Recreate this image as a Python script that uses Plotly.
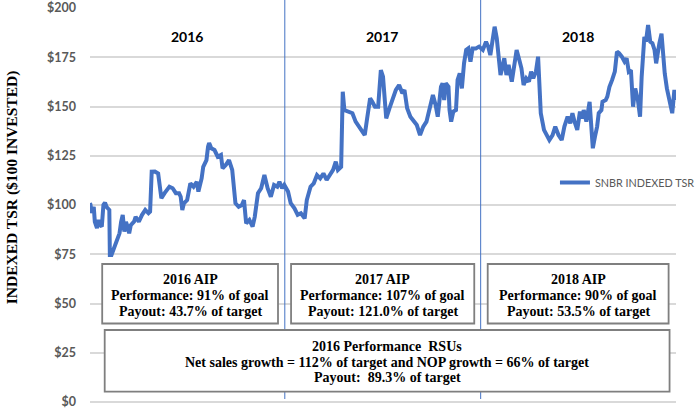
import plotly.graph_objects as go

# ---------------- data ----------------
dates_2016 = ["01-04","01-05","01-07","01-11","01-13","01-17","01-20","01-23","01-26","01-29","02-01",
              "02-04","02-09","02-10","02-13","02-16","02-22","02-28","03-02","03-05","03-08","03-11",
              "03-14","03-17","03-20","03-26","03-29","04-04","04-10","04-16","04-22","04-25","04-28",
              "05-04","05-10","05-13","05-16","05-22","05-28","05-31","06-06","06-12","06-18","06-21",
              "06-24","06-27","07-03","07-09","07-15","07-21","07-24","07-30","08-02","08-08","08-11",
              "08-13","08-17","08-23","08-29","09-04","09-07","09-13","09-19","09-25","10-01","10-07",
              "10-13","10-17","10-21","10-27","11-02","11-06","11-12","11-18","11-24","11-30","12-06",
              "12-12","12-18","12-22","12-27","12-31"]
tsr_2016 = [101,100,96,99,91.5,88.3,92.4,89.8,89,100,101.2,99,97.5,74.6,74.6,77,81.4,85.6,91.5,95,86.5,
            91.5,89,85.6,89.8,91.5,94,91.5,95,97.5,95.8,96.6,116.9,117,116,109.3,103.4,106,108.5,109.3,
            108.5,106,106,104.2,97.5,100.9,102.5,111,109.3,111.8,106.8,113.5,119.4,122.8,129.6,131.5,
            128.8,127.9,124.5,125.4,118.6,120.3,122.8,117.8,100.9,99.1,100,102.5,90.7,92.4,89,94,106,
            108.5,115.2,108.5,104.2,110.2,109.3,111.8,108.5,110.2]

dates_2017 = ["01-07","01-12","01-19","01-25","01-31","02-07","02-11","02-18","02-24","03-02","03-08",
              "03-14","03-20","03-26","04-01","04-06","04-10","04-16","04-19","04-22","04-28","05-07",
              "05-13","05-19","05-25","05-30","06-03","06-09","06-13","06-18","06-24","06-29","07-03",
              "07-06","07-09","07-15","07-21","07-27","08-02","08-08","08-12","08-17","08-23","08-29",
              "09-04","09-10","09-16","09-22","09-28","10-04","10-09","10-13","10-19","10-22","10-25",
              "10-28","11-02","11-04","11-07","11-11","11-16","11-19","11-23","11-27","12-01","12-05",
              "12-09","12-13","12-17","12-23","12-29"]
tsr_2017 = [106.8,100.9,98.3,95,95.8,93.2,102.5,109.3,111,115.2,113.5,116,112.7,115.2,117.8,122,117.8,
            119.4,157.5,148.2,147.4,146.6,142.3,139.8,138.1,135.5,143.1,154.2,152.4,149.9,149.9,168.5,
            165.1,155,144,149.1,153.3,158.4,160.9,156.7,158.4,149.1,144.8,142.3,140.6,135.5,139.8,142.3,
            148.2,155.8,150.8,144.8,160,161.8,153.3,161.8,160,148.2,142.3,147.4,148.2,163.5,166.8,159.2,
            171.9,178.7,179.5,172.8,179.5,179.5,180.4]

dates_2018 = ["01-05","01-11","01-15","01-19","01-23","01-27","01-31","02-04","02-07","02-10","02-14",
              "02-18","02-22","02-28","03-04","03-09","03-14","03-18","03-22","03-27","04-01","04-05",
              "04-09","04-14","04-18","04-21","04-23","04-29","05-05","05-09","05-15","05-20","05-26",
              "06-01","06-06","06-12","06-17","06-21","06-25","06-30","07-05","07-09","07-12","07-17",
              "07-23","07-25","07-29","08-02","08-06","08-09","08-14","08-16","08-22","08-25","08-29",
              "09-03","09-08","09-12","09-16","09-21","09-26","09-30","10-04","10-08","10-12","10-16",
              "10-21","10-25","10-28","11-02","11-05","11-09","11-13","11-17","11-21","11-24","11-27",
              "11-30","12-04","12-07","12-10","12-14","12-20","12-24","12-28","12-31"]
tsr_2018 = [178.7,182.9,180.4,176.1,185.4,190.5,184.6,175.3,166,169.4,174.5,166,171.1,162.6,170.2,178.7,
            173.6,169.4,160.9,164.3,162.6,167.7,164.3,167.7,175.3,156.7,146.6,138.1,135.5,133,135.5,
            139.8,135.5,133,139.8,144.8,141.5,146.6,142.3,138.1,147.4,144,148.2,142.3,152.4,145.7,128.8,
            134.7,139.8,146.6,148.2,152.4,153.3,155,160,163.5,167.7,177.8,177,175.3,172.8,174.5,167.7,
            168.5,149.9,159.2,153.3,144.8,165.1,185.4,182.9,191.4,182.9,182.1,178.7,171.9,178.7,182.1,
            187,174.5,166.8,159.2,151.6,146.6,158.4,153.3]

series_name = "SNBR INDEXED TSR"
years = ["2016", "2017", "2018"]
year_mid = ["2016-07-02", "2017-07-02", "2018-07-02"]
year_boundaries = ["2017-01-01", "2018-01-01"]

aip_titles = ["2016 AIP", "2017 AIP", "2018 AIP"]
aip_performance = ["Performance: 91% of goal", "Performance: 107% of goal", "Performance: 90% of goal"]
aip_payout = ["Payout: 43.7% of target", "Payout: 121.0% of target", "Payout: 53.5% of target"]
rsu_lines = ["2016 Performance  RSUs",
             "Net sales growth = 112% of target and NOP growth = 66% of target",
             "Payout:  89.3% of target"]

y_title = "INDEXED TSR ($100 INVESTED)"

# ---------------- build ----------------
x_all = ([f"2016-{d}" for d in dates_2016] + [f"2017-{d}" for d in dates_2017]
         + [f"2018-{d}" for d in dates_2018])
y_all = tsr_2016 + tsr_2017 + tsr_2018

BLUE = "#4472C4"
GRAY_TXT = "#595959"
GRID = "#d9d9d9"
BOX = "#7f7f7f"
SERIF = "Liberation Serif"
SANS = "Lato"

fig = go.Figure()
fig.add_trace(go.Scatter(x=x_all, y=y_all, mode="lines", name=series_name,
                         line=dict(color=BLUE, width=4), showlegend=True))

W, H = 700, 415
L, R, T, B = 90, 0, 8, 13
PW, PH = W - L - R, H - T - B

def px(xp):
    return (xp - L) / PW

def py(yp):
    return (H - B - yp) / PH

shapes = []
for yb in year_boundaries:
    shapes.append(dict(type="line", xref="x", yref="paper", x0=yb, x1=yb,
                       y0=py(399), y1=py(0), line=dict(color=BLUE, width=1), layer="above"))

# boxes (pixel extents of the reference)
aip_boxes = [(102.7, 285.7), (299.3, 490.0), (504.0, 692.3)]
for (x0, x1) in aip_boxes:
    shapes.append(dict(type="rect", xref="paper", yref="paper", x0=px(x0), x1=px(x1),
                       y0=py(323.5), y1=py(264), fillcolor="white",
                       line=dict(color=BOX, width=1.8), layer="above"))
shapes.append(dict(type="rect", xref="paper", yref="paper", x0=px(105.3), x1=px(693.3),
                   y0=py(391.7), y1=py(330), fillcolor="white",
                   line=dict(color=BOX, width=1.8), layer="above"))

annotations = []
for yr, xm in zip(years, year_mid):
    annotations.append(dict(text=yr, x=xm, xref="x", y=py(36), yref="paper", showarrow=False,
                            xanchor="center", yanchor="middle",
                            font=dict(family=SANS, size=14, color="black", weight="bold")))

serif_font = dict(family=SERIF, size=14, color="black", weight="bold")
for (x0, x1), t1, t2, t3 in zip(aip_boxes, aip_titles, aip_performance, aip_payout):
    cx = px((x0 + x1) / 2)
    for txt, yy in ((t1, 279.5), (t2, 295.5), (t3, 311.5)):
        annotations.append(dict(text=txt, x=cx, y=py(yy), xref="paper", yref="paper",
                                showarrow=False, xanchor="center", yanchor="middle", font=serif_font))
for txt, yy in zip(rsu_lines, (346.5, 362, 377.7)):
    annotations.append(dict(text=txt, x=px(399.3), y=py(yy), xref="paper", yref="paper",
                            showarrow=False, xanchor="center", yanchor="middle", font=serif_font))

annotations.append(dict(text=y_title, x=px(8.5), y=py(187.5), xref="paper", yref="paper",
                        showarrow=False, textangle=-90, xanchor="center", yanchor="middle",
                        font=dict(family=SERIF, size=15.5, color="black", weight="bold")))

fig.update_layout(
    width=W, height=H,
    margin=dict(l=L, r=R, t=T, b=B, pad=0),
    paper_bgcolor="white", plot_bgcolor="white",
    xaxis=dict(type="date", range=["2016-01-04", "2018-12-31"], showgrid=False,
               showticklabels=False, zeroline=False, showline=False, ticks=""),
    yaxis=dict(range=[0, 200], dtick=25, tickprefix="$", showgrid=True, gridcolor=GRID,
               gridwidth=1.5, zeroline=True, zerolinecolor=GRID, zerolinewidth=1.5,
               showline=False, ticks="", ticklabelstandoff=13,
               tickfont=dict(family=SANS, size=12.5, color=GRAY_TXT, weight="bold")),
    showlegend=True,
    legend=dict(x=px(574), y=py(182.5), xanchor="left", yanchor="middle",
                bgcolor="rgba(0,0,0,0)", borderwidth=0, itemwidth=30,
                font=dict(family=SANS, size=10.8, color=GRAY_TXT)),
    shapes=shapes,
    annotations=annotations,
)

fig.write_html("out.html", config={"displayModeBar": False},
               post_script="document.body.style.margin='0';document.body.style.overflow='hidden';")
